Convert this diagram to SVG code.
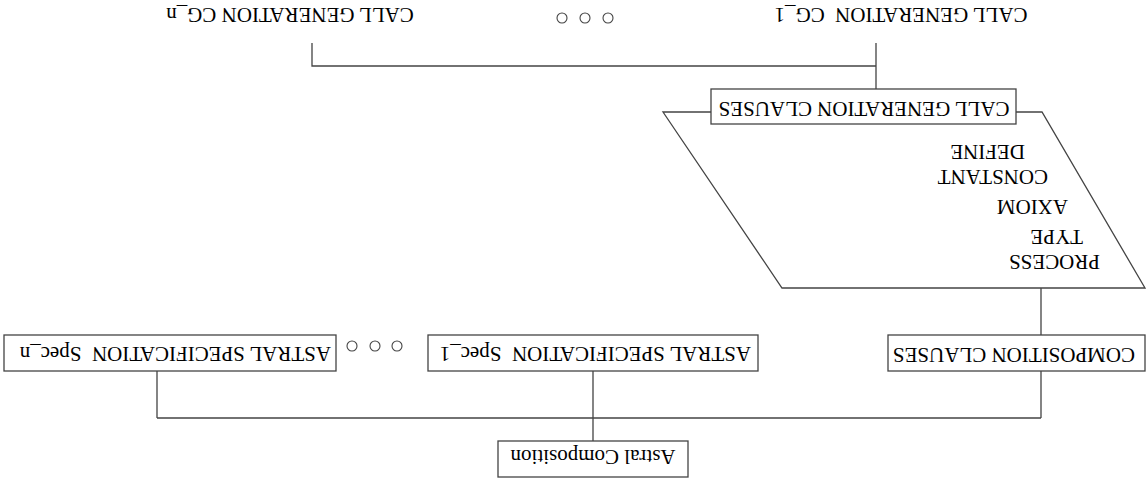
<svg xmlns="http://www.w3.org/2000/svg" width="1146" height="485" viewBox="0 0 1146 485">
<style>
.box{fill:#fff;stroke:#444;stroke-width:1.3}
.ln{fill:none;stroke:#444;stroke-width:1.3}
.t{font-family:"Liberation Serif","Times New Roman",serif;font-size:21px;fill:#000}
.c{text-anchor:middle}
.dot{fill:none;stroke:#444;stroke-width:1.1}
</style>
<rect width="1146" height="485" fill="#fff"/>
<g transform="rotate(180 573 242.5)">
<g id="connectors">
<path class="ln" d="M553 44V67M105 67H989M989 67V114M553 67V114M105 67V114M105 150V197"/>
<path class="ln" d="M270 396V419H834V442M270 419V442"/>
</g>
<g id="astral-composition">
<rect class="box" x="458" y="8" width="190" height="36"/>
<text class="t c" x="553" y="35">Astral Composition</text>
</g>
<g id="composition-clauses">
<rect class="box" x="1" y="114" width="257" height="36"/>
<text class="t" x="11" y="137">COMPOSITION CLAUSES</text>
</g>
<g id="spec-1">
<rect class="box" x="388" y="114" width="330" height="36"/>
<text class="t" x="395" y="138">ASTRAL SPECIFICATION&#160; Spec_1</text>
</g>
<g id="spec-n">
<rect class="box" x="810" y="114" width="332" height="36"/>
<text class="t" x="815" y="138">ASTRAL SPECIFICATION&#160; Spec_n</text>
</g>
<g id="dots-spec">
<circle class="dot" cx="749" cy="139" r="5"/>
<circle class="dot" cx="771" cy="139" r="5"/>
<circle class="dot" cx="794" cy="139" r="5"/>
</g>
<g id="clauses-list">
<polygon class="ln" points="1,197 364,197 483,373 104,373"/>
<text class="t" x="46" y="230">PROCESS</text>
<text class="t" x="63" y="255">TYPE</text>
<text class="t" x="78" y="285">AXIOM</text>
<text class="t" x="98" y="315">CONSTANT</text>
<text class="t" x="121" y="340">DEFINE</text>
</g>
<g id="call-generation-clauses">
<rect class="box" x="130" y="361" width="305" height="35"/>
<text class="t c" x="282" y="383">CALL GENERATION CLAUSES</text>
</g>
<g id="cg-1">
<text class="t c" x="245" y="477">CALL GENERATION&#160; CG_1</text>
</g>
<g id="dots-cg">
<circle class="dot" cx="538" cy="467" r="5"/>
<circle class="dot" cx="561" cy="467" r="5"/>
<circle class="dot" cx="584" cy="467" r="5"/>
</g>
<g id="cg-n">
<text class="t c" x="856" y="477">CALL GENERATION CG_n</text>
</g>
</g>
</svg>
